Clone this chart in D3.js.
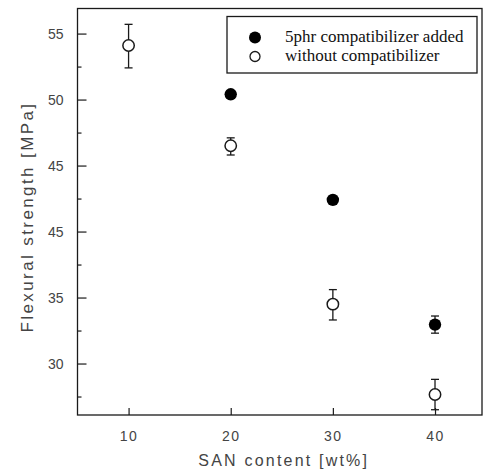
<!DOCTYPE html>
<html><head><meta charset="utf-8">
<script src="https://cdn.jsdelivr.net/npm/d3@7/dist/d3.min.js"></script>
<style>body{margin:0;background:#fff}svg{display:block}</style>
</head><body><svg id="c" width="483" height="474"></svg>
<script>
// data
const sanContent = [10, 20, 30, 40];
const withCompat = [null, 50.4, 42.4, 32.95];
const withCompatErrLo = [null, 50.4, 42.4, 32.3];
const withCompatErrHi = [null, 50.4, 42.4, 33.6];
const withoutCompat = [54.1, 46.5, 34.5, 27.65];
const withoutCompatErrLo = [52.4, 45.8, 33.3, 26.5];
const withoutCompatErrHi = [55.7, 47.1, 35.6, 28.8];
const yTickValues = [55, 50, 45, 40, 35, 30];
const yTickLabels = ["55", "50", "45", "45", "35", "30"];
const yMinorTicks = [52.5, 47.5, 42.5, 37.5, 32.5, 27.5];
const xTickValues = [10, 20, 30, 40];
const legendLabels = ["5phr compatibilizer added", "without compatibilizer"];

const svg = d3.select("#c");
const L = 77.5, R = 482, T = 8.5, B = 415;
const x = d3.scaleLinear().domain([5, 44.6]).range([L, R]);
const y = d3.scaleLinear().domain([26.1, 56.9]).range([B, T]);
const ink = "#1a1a1a";

// frame
svg.append("rect").attr("x", L).attr("y", T).attr("width", R - L).attr("height", B - T)
  .attr("fill", "none").attr("stroke", ink).attr("stroke-width", 1.3);

// y axis
const yAxis = d3.axisLeft(y).tickValues(yTickValues).tickSize(-9)
  .tickFormat((d, i) => yTickLabels[i]).tickPadding(14);
const gy = svg.append("g").attr("transform", `translate(${L},0)`).call(yAxis);
gy.select(".domain").remove();
gy.selectAll("line").attr("stroke", ink).attr("stroke-width", 1.2);
gy.selectAll("text").attr("font-family", "Liberation Sans, Arial, sans-serif")
  .attr("font-size", 14).attr("fill", "#444");
const yMinor = d3.axisLeft(y).tickValues(yMinorTicks).tickSize(-4).tickFormat("");
const gym = svg.append("g").attr("transform", `translate(${L},0)`).call(yMinor);
gym.select(".domain").remove();
gym.selectAll("line").attr("stroke", ink).attr("stroke-width", 1.2);

// x axis
const xAxis = d3.axisBottom(x).tickValues(xTickValues).tickSize(-7).tickPadding(16);
const gx = svg.append("g").attr("transform", `translate(0,${B})`).call(xAxis);
gx.select(".domain").remove();
gx.selectAll("line").attr("stroke", ink).attr("stroke-width", 1.2);
gx.selectAll("text").attr("font-family", "Liberation Sans, Arial, sans-serif")
  .attr("font-size", 14).attr("fill", "#444").attr("letter-spacing", 1.5);

// axis titles
svg.append("text").attr("x", (L + R) / 2 + 4).attr("y", 466).attr("text-anchor", "middle")
  .attr("font-family", "Liberation Sans, Arial, sans-serif").attr("font-size", 16)
  .attr("fill", "#444").attr("letter-spacing", 2.2).text("SAN content  [wt%]");
svg.append("text").attr("transform", "translate(33,217) rotate(-90)").attr("text-anchor", "middle")
  .attr("font-family", "Liberation Sans, Arial, sans-serif").attr("font-size", 17)
  .attr("fill", "#444").attr("letter-spacing", 2.4).text("Flexural strength  [MPa]");

// error bars
function errBars(lo, hi) {
  const g = svg.append("g").attr("stroke", ink).attr("stroke-width", 1.3);
  sanContent.forEach((s, i) => {
    if (lo[i] == null || hi[i] - lo[i] < 0.2) return;
    const cx = x(s);
    g.append("line").attr("x1", cx).attr("x2", cx).attr("y1", y(lo[i])).attr("y2", y(hi[i]));
    [lo[i], hi[i]].forEach(v => g.append("line").attr("x1", cx - 4).attr("x2", cx + 4)
      .attr("y1", y(v)).attr("y2", y(v)));
  });
}
errBars(withCompatErrLo, withCompatErrHi);
errBars(withoutCompatErrLo, withoutCompatErrHi);

// points
svg.append("g").selectAll("circle").data(sanContent.map((s, i) => [s, withCompat[i]]).filter(d => d[1] != null))
  .join("circle").attr("cx", d => x(d[0])).attr("cy", d => y(d[1])).attr("r", 6.2).attr("fill", "#000");
svg.append("g").selectAll("circle").data(sanContent.map((s, i) => [s, withoutCompat[i]]))
  .join("circle").attr("cx", d => x(d[0])).attr("cy", d => y(d[1])).attr("r", 5.7)
  .attr("fill", "#fff").attr("stroke", ink).attr("stroke-width", 1.5);

// legend
const lg = svg.append("g");
lg.append("rect").attr("x", 227).attr("y", 16.5).attr("width", 250).attr("height", 56.5)
  .attr("fill", "#fff").attr("stroke", ink).attr("stroke-width", 1.3);
lg.append("circle").attr("cx", 255).attr("cy", 37.5).attr("r", 6).attr("fill", "#000");
lg.append("circle").attr("cx", 255).attr("cy", 56.5).attr("r", 5).attr("fill", "#fff")
  .attr("stroke", ink).attr("stroke-width", 1.3);
legendLabels.forEach((t, i) => lg.append("text").attr("x", 285).attr("y", 42 + i * 19)
  .attr("font-family", "Liberation Serif, Times New Roman, serif").attr("font-size", 17)
  .attr("fill", "#111").text(t));
</script></body></html>
